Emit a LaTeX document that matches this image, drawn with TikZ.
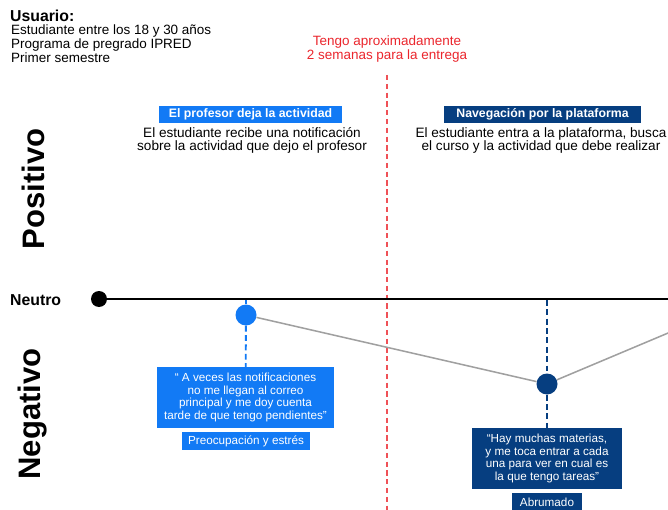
\documentclass[tikz,border=0pt]{standalone}
\usepackage{fontspec}
\setmainfont{Liberation Sans}
\usetikzlibrary{positioning}
\definecolor{mainblue}{RGB}{18,122,245}
\definecolor{navyblue}{RGB}{6,62,128}
\definecolor{deadred}{RGB}{235,38,45}
\definecolor{curvegray}{RGB}{160,160,160}

\begin{document}
\begin{tikzpicture}[x=0.03cm, y=-0.03cm,
    tag/.style={fill=#1, text=white, inner sep=0pt, minimum height=0.51cm,
        font=\fontsize{10.5}{12}\selectfont\bfseries},
    quote/.style={fill=#1, text=white, inner sep=0pt, minimum height=1.83cm,
        align=center, font=\fontsize{10}{10.8}\selectfont},
    feeling/.style={fill=#1, text=white, inner sep=0pt, minimum height=0.54cm,
        font=\fontsize{10}{12}\selectfont},
    desc/.style={align=center, font=\fontsize{11.6}{11}\selectfont},
    moment/.style={circle, fill=#1, inner sep=0pt, minimum size=0.63cm}]
    \clip (0,0) rectangle (668,510);
    \fill[white] (0,0) rectangle (668,510);

    % User profile
    \node[anchor=west, font=\fontsize{13.5}{14}\selectfont\bfseries] at (6,16) (usuario) {Usuario:};
    \node[anchor=north west, align=left, inner sep=0pt, font=\fontsize{11.5}{11.9}\selectfont] at (11,25) (perfil)
        {Estudiante entre los 18 y 30 años\\Programa de pregrado IPRED\\Primer semestre};

    % Deadline
    \node[deadred, align=center, font=\fontsize{11.5}{11.9}\selectfont] at (387,49) (plazo)
        {Tengo aproximadamente\\2 semanas para la entrega};
    \coordinate (plazotop) at (387,75);
    \coordinate (plazobot) at (387,515);
    \draw[deadred!80, line width=1.1pt, dash pattern=on 4.5pt off 3pt] (plazotop) -- (plazobot);

    % Axis labels
    \node[rotate=90, font=\fontsize{26.5}{26}\selectfont\bfseries] at (33,189) (positivo) {Positivo};
    \node[rotate=90, font=\fontsize{26.5}{26}\selectfont\bfseries] at (33,414) (negativo) {Negativo};
    \node[anchor=west, font=\fontsize{13.5}{14}\selectfont\bfseries] at (6,300) (neutro) {Neutro};

    % Neutral line
    \node[circle, fill=black, inner sep=0pt, minimum size=0.48cm] at (99,299) (inicio) {};
    \coordinate (fin) at (675,299);
    \draw[line width=2.4pt] (inicio) -- (fin);

    % Stage 1: teacher posts the activity
    \node[tag=mainblue, minimum width=5.49cm] at (250.5,114.5) (etapa1) {El profesor deja la actividad};
    \node[desc] at (252,140.5) (desc1)
        {El estudiante recibe una notificación\\sobre la actividad que dejo el profesor};
    \node[moment=mainblue] at (246,315) (punto1) {};
    \coordinate (eje1) at (246,300);
    \node[quote=mainblue, minimum width=5.31cm] at (245.5,397.5) (cita1)
        {“ A veces las notificaciones\\no me llegan al correo\\principal y me doy cuenta\\tarde de que tengo pendientes”};
    \node[feeling=mainblue, minimum width=3.84cm] at (246,441) (emocion1) {Preocupación y estrés};
    \draw[mainblue, line width=1.6pt, dash pattern=on 5pt off 3pt] (eje1) -- (punto1);
    \draw[mainblue, line width=1.6pt, dash pattern=on 5pt off 3pt] (punto1) -- (cita1);

    % Stage 2: browsing the platform
    \node[tag=navyblue, minimum width=5.91cm] at (542.5,114.5) (etapa2) {Navegación por la plataforma};
    \node[desc] at (541,140.5) (desc2)
        {El estudiante entra a la plataforma, busca\\el curso y la actividad que debe realizar};
    \node[moment=navyblue] at (547,384) (punto2) {};
    \coordinate (eje2) at (547,300);
    \node[quote=navyblue, minimum width=4.5cm] at (547,458.5) (cita2)
        {“Hay muchas materias,\\y me toca entrar a cada\\una para ver en cual es\\la que tengo tareas”};
    \node[feeling=navyblue, minimum width=2.1cm] at (547,502) (emocion2) {Abrumado};
    \draw[navyblue, line width=1.6pt, dash pattern=on 5pt off 3pt] (eje2) -- (punto2);
    \draw[navyblue, line width=1.6pt, dash pattern=on 5pt off 3pt] (punto2) -- (cita2);

    % Experience curve
    \coordinate (sigue) at (680,328);
    \draw[curvegray, line width=1.3pt] (punto1) -- (punto2) -- (sigue);
\end{tikzpicture}
\end{document}
